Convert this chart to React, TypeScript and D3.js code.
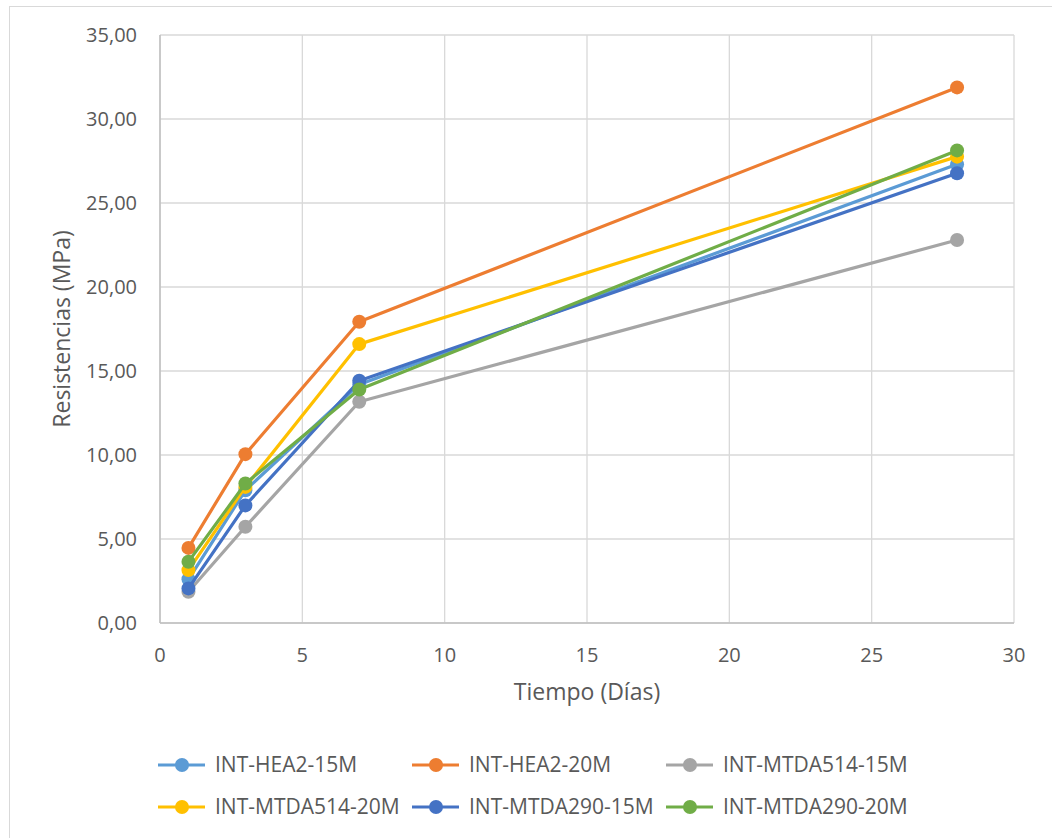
import React from "react";
import * as d3 from "d3";

// Curing ages in days
const days = [1, 3, 7, 28];

// Compressive strength (MPa) per mix
const hea2_15 = [2.6, 7.9, 14.2, 27.3];
const hea2_20 = [4.47, 10.05, 17.93, 31.88];
const mtda514_15 = [1.86, 5.73, 13.17, 22.8];
const mtda514_20 = [3.15, 8.1, 16.6, 27.76];
const mtda290_15 = [2.06, 7.0, 14.42, 26.77];
const mtda290_20 = [3.65, 8.3, 13.9, 28.13];

const seriesNames = [
  "INT-HEA2-15M",
  "INT-HEA2-20M",
  "INT-MTDA514-15M",
  "INT-MTDA514-20M",
  "INT-MTDA290-15M",
  "INT-MTDA290-20M",
];
const seriesValues = [hea2_15, hea2_20, mtda514_15, mtda514_20, mtda290_15, mtda290_20];
const colors = ["#5B9BD5", "#ED7D31", "#A5A5A5", "#FFC000", "#4472C4", "#70AD47"];

const xTicks = [0, 5, 10, 15, 20, 25, 30];
const yTicks = [0, 5, 10, 15, 20, 25, 30, 35];

const FONT = "'Open Sans', 'Noto Sans', sans-serif";
const TEXT = "#595959";

export default function App() {
  const W = 1052;
  const H = 838;
  const plot = { left: 160, right: 1014, top: 35, bottom: 623 };

  const x = d3.scaleLinear().domain([0, 30]).range([plot.left, plot.right]);
  const y = d3.scaleLinear().domain([0, 35]).range([plot.bottom, plot.top]);

  const line = d3
    .line<[number, number]>()
    .x((d) => x(d[0]))
    .y((d) => y(d[1]));

  const fmt = (v: number) => v.toFixed(2).replace(".", ",");

  // Legend layout: 3 columns, 2 rows
  const legCols = [158, 412, 666];
  const legRows = [765, 807];

  return (
    <svg
      width={W}
      height={H}
      style={{ position: "absolute", left: 0, top: 0, background: "#fff" }}
      fontFamily={FONT}
    >
      <rect x={9.5} y={6.5} width={1200} height={1000} fill="#fff" stroke="#d9d9d9" strokeWidth={1} />

      {/* gridlines */}
      {yTicks.map((t) => (
        <line key={"gy" + t} x1={plot.left} x2={plot.right} y1={y(t)} y2={y(t)} stroke="#d9d9d9" strokeWidth={1.3} />
      ))}
      {xTicks.map((t) => (
        <line key={"gx" + t} x1={x(t)} x2={x(t)} y1={plot.top} y2={plot.bottom} stroke="#d9d9d9" strokeWidth={1.3} />
      ))}
      {/* axes */}
      <line x1={plot.left} x2={plot.right} y1={plot.bottom} y2={plot.bottom} stroke="#bfbfbf" strokeWidth={1.5} />
      <line x1={plot.left} x2={plot.left} y1={plot.top} y2={plot.bottom} stroke="#bfbfbf" strokeWidth={1.5} />

      {/* tick labels */}
      {yTicks.map((t) => (
        <text key={"ly" + t} x={137} y={y(t)} dy="0.35em" textAnchor="end" fontSize={20} fill={TEXT}>
          {fmt(t)}
        </text>
      ))}
      {xTicks.map((t) => (
        <text key={"lx" + t} x={x(t)} y={655} dy="0.35em" textAnchor="middle" fontSize={20} fill={TEXT}>
          {t}
        </text>
      ))}

      {/* axis titles */}
      <text x={(plot.left + plot.right) / 2} y={692} dy="0.35em" textAnchor="middle" fontSize={23} fill={TEXT}>
        Tiempo (Días)
      </text>
      <text
        transform={`translate(62, ${(plot.top + plot.bottom) / 2}) rotate(-90)`}
        dy="0.35em"
        textAnchor="middle"
        fontSize={23}
        fill={TEXT}
      >
        Resistencias (MPa)
      </text>

      {/* series */}
      {seriesValues.map((vals, i) => {
        const pts = days.map((d, j) => [d, vals[j]] as [number, number]);
        return (
          <g key={"s" + i}>
            <path d={line(pts) || ""} fill="none" stroke={colors[i]} strokeWidth={3.2} strokeLinejoin="round" />
            {pts.map((p, j) => (
              <circle key={j} cx={x(p[0])} cy={y(p[1])} r={7} fill={colors[i]} />
            ))}
          </g>
        );
      })}

      {/* legend */}
      {seriesNames.map((name, i) => {
        const lx = legCols[i % 3];
        const ly = legRows[Math.floor(i / 3)];
        return (
          <g key={"lg" + i}>
            <line x1={lx} x2={lx + 47} y1={ly} y2={ly} stroke={colors[i]} strokeWidth={3.2} />
            <circle cx={lx + 24} cy={ly} r={7} fill={colors[i]} />
            <text x={lx + 57} y={ly} dy="0.35em" fontSize={21} fill={TEXT}>
              {name}
            </text>
          </g>
        );
      })}
    </svg>
  );
}
